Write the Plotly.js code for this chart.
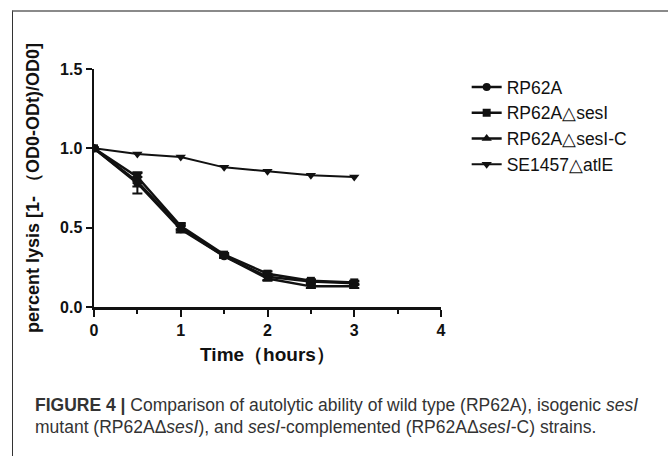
<!DOCTYPE html>
<html>
<head>
<meta charset="utf-8">
<script src="https://cdn.plot.ly/plotly-3.0.1.min.js"></script>
<style>
html,body{margin:0;padding:0;background:#fff;}
#wrap{position:relative;width:668px;height:456px;}
#chart{position:absolute;left:0;top:0;width:668px;height:456px;}
#frame{position:absolute;left:12px;top:10px;width:660px;height:460px;border-top:2px solid #8a8a8a;border-left:1px solid #333;pointer-events:none;}
</style>
</head>
<body>
<div id="wrap"><div id="chart"></div><div id="frame"></div></div>
<script>
const time = [0, 0.5, 1, 1.5, 2, 2.5, 3];
const seriesNames = ["RP62A", "RP62A\u25B3sesI", "RP62A\u25B3sesI-C", "SE1457\u25B3atlE"];
const rp62a      = [1.0, 0.78, 0.49, 0.32, 0.19, 0.16, 0.15];
const rp62aErr   = [0, 0.065, 0.02, 0.01, 0.02, 0.01, 0.01];
const sesI       = [1.0, 0.82, 0.51, 0.33, 0.21, 0.165, 0.155];
const sesIErr    = [0, 0.03, 0.02, 0.01, 0.015, 0.01, 0.01];
const sesIC      = [1.0, 0.79, 0.50, 0.32, 0.18, 0.13, 0.13];
const sesICErr   = [0, 0.03, 0.02, 0.01, 0.015, 0.01, 0.01];
const atlE       = [1.0, 0.965, 0.945, 0.88, 0.855, 0.83, 0.82];
const xTicks = [0, 1, 2, 3, 4];
const yTicks = [0, 0.5, 1.0, 1.5];
const yTickText = ["0.0", "0.5", "1.0", "1.5"];

const symbols = ["circle", "square", "triangle-up", "triangle-down"];
const values = [rp62a, sesI, sesIC, atlE];
const errs = [rp62aErr, sesIErr, sesICErr, null];
const sizes = [8, 8, 9, 9];

const traces = values.map((v, i) => {
  const t = {
    x: time, y: v, name: seriesNames[i], type: "scatter", mode: "lines+markers",
    line: {color: "#111", width: i === 3 ? 2 : 2.5},
    marker: {symbol: symbols[i], size: sizes[i], color: "#111"}
  };
  if (errs[i]) t.error_y = {type: "data", array: errs[i], visible: true, color: "#111", thickness: 2, width: 5};
  return t;
});

const font = "Liberation Sans, Arial, sans-serif";
const layout = {
  width: 668, height: 456,
  paper_bgcolor: "rgba(0,0,0,0)", plot_bgcolor: "rgba(0,0,0,0)",
  margin: {l: 94, r: 227, t: 69, b: 149},
  showlegend: true,
  font: {family: font, color: "#111"},
  xaxis: {
    range: [0, 4], tickvals: xTicks, ticks: "outside", ticklen: 7, tickwidth: 2, tickcolor: "#111",
    showline: true, linewidth: 2.5, linecolor: "#111", showgrid: false, zeroline: false,
    tickfont: {family: font, size: 16, weight: "bold", color: "#111"},
    minor: {dtick: 0.5, ticks: "outside", ticklen: 4, tickwidth: 2, tickcolor: "#111", showgrid: false},
    title: {text: "Time\uFF08hours\uFF09", font: {family: font, size: 19, weight: "bold", color: "#111"}, standoff: 10}
  },
  yaxis: {
    range: [0, 1.5], tickvals: yTicks, ticktext: yTickText, ticks: "outside", ticklen: 6, tickwidth: 2, tickcolor: "#111",
    showline: true, linewidth: 2.5, linecolor: "#111", showgrid: false, zeroline: false,
    tickfont: {family: font, size: 16, weight: "bold", color: "#111"},
    title: {text: "percent lysis [1- \uFF08OD0-ODt)/OD0]", font: {family: font, size: 18, weight: "bold", color: "#111"}, standoff: 16}
  },
  legend: {
    x: 1.074, y: 1.0, xanchor: "left", yanchor: "top",
    font: {family: font, size: 17.5, color: "#111"},
    tracegroupgap: 0, itemwidth: 30, bgcolor: "rgba(0,0,0,0)"
  },
  annotations: [
    {xref: "paper", yref: "paper", x: -0.176, y: -0.412, xanchor: "left", yanchor: "middle", showarrow: false, align: "left",
     text: "<b>FIGURE 4 |</b> Comparison of autolytic ability of wild type (RP62A), isogenic <i>sesI</i>",
     font: {family: font, size: 17.5, color: "#333"}},
    {xref: "paper", yref: "paper", x: -0.176, y: -0.504, xanchor: "left", yanchor: "middle", showarrow: false, align: "left",
     text: "mutant (RP62A\u0394<i>sesI</i>), and <i>sesI</i>-complemented (RP62A\u0394<i>sesI</i>-C) strains.",
     font: {family: font, size: 17.5, color: "#333"}}
  ]
};
Plotly.newPlot("chart", traces, layout, {displayModeBar: false, staticPlot: true});
</script>
</body>
</html>
